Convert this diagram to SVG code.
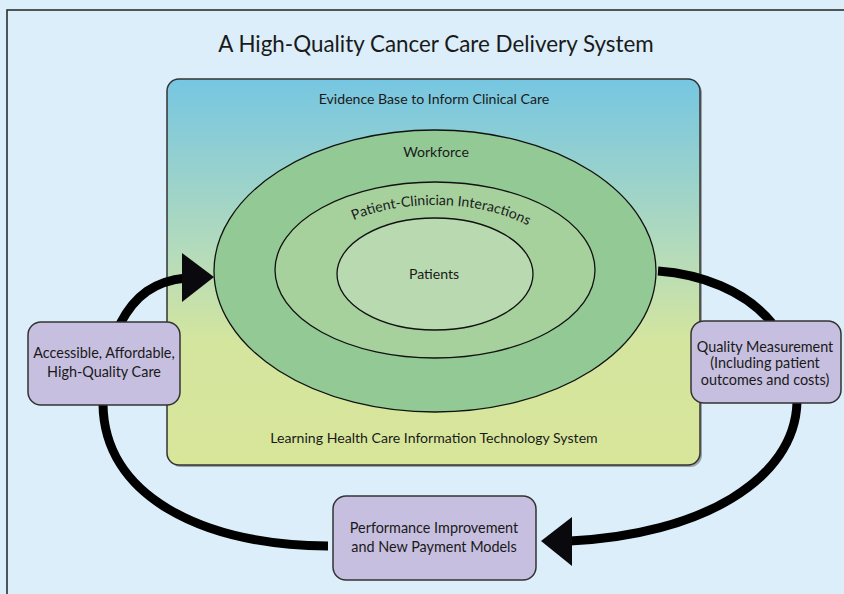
<svg xmlns="http://www.w3.org/2000/svg" width="844" height="594" viewBox="0 0 844 594">
<defs>
<linearGradient id="bg" x1="0" y1="0" x2="0" y2="1">
<stop offset="0" stop-color="#76C6E2"/>
<stop offset="0.45" stop-color="#B4DBBB"/>
<stop offset="0.68" stop-color="#D4E59E"/>
<stop offset="1" stop-color="#D8E69A"/>
</linearGradient>
<path id="arcText" d="M 305,274 A 130,69 0 0 1 565,274"/>
</defs>
<style>
text{font-family:Lato,"Open Sans","Liberation Sans",sans-serif;fill:#1a1a1a;text-anchor:middle}
.lbl{font-size:14.1px}
.bl{font-size:14.4px}
.box{fill:#C7BFDF;stroke:#333;stroke-width:1.5}
.ell{stroke:#111;stroke-width:1.3}
.conn{fill:none;stroke:#000;stroke-width:9}
.head{fill:#0a0a0e}
</style>
<rect x="0" y="0" width="844" height="594" fill="#DBEEF9"/>
<rect x="7" y="10" width="850" height="600" fill="#DBEEF9" stroke="#222" stroke-width="1.5"/>
<text x="436" y="52" font-size="22.4">A High-Quality Cancer Care Delivery System</text>

<g id="system">
<rect x="169" y="81" width="533" height="386" rx="12" fill="#555" opacity="0.5"/>
<rect x="167" y="79" width="533" height="386" rx="12" fill="url(#bg)" stroke="#333" stroke-width="1.5"/>
<text class="lbl" x="434" y="104">Evidence Base to Inform Clinical Care</text>
<text class="lbl" x="434" y="443">Learning Health Care Information Technology System</text>
</g>
<g id="workforce">
<ellipse class="ell" cx="435" cy="271" rx="221" ry="141" fill="#93C994"/>
<text class="lbl" x="436" y="157">Workforce</text>
</g>
<g id="interactions">
<ellipse class="ell" cx="435" cy="270" rx="160" ry="88" fill="#A6D19D"/>
<text class="lbl"><textPath href="#arcText" startOffset="52%">Patient-Clinician Interactions</textPath></text>
</g>
<g id="patients">
<ellipse class="ell" cx="435" cy="274" rx="98" ry="56" fill="#B9DAB0"/>
<text class="lbl" x="434" y="279">Patients</text>
</g>

<g id="connectors">
<path class="conn" d="M120,324 C135,295 155,281 186,278"/>
<polygon class="head" points="182,253 182,302 214,277"/>
<path class="conn" d="M658,271 C700,274 745,290 772,323"/>
<path class="conn" d="M797,402 C795,480 700,535 570,541"/>
<polygon class="head" points="572,517 572,566 541,541"/>
<path class="conn" d="M328,546 C200,545 104,495 103,404"/>
</g>

<g id="access">
<rect class="box" x="28" y="322" width="152" height="83" rx="13"/>
<text class="bl" x="104" y="358">Accessible, Affordable,</text>
<text class="bl" x="104" y="377">High-Quality Care</text>
</g>
<g id="quality">
<rect class="box" x="691" y="321" width="150" height="82" rx="13"/>
<text class="bl" x="765" y="352">Quality Measurement</text>
<text class="bl" x="765" y="368">(Including patient</text>
<text class="bl" x="765" y="385">outcomes and costs)</text>
</g>
<g id="performance">
<rect class="box" x="333" y="496" width="203" height="84" rx="13"/>
<text class="bl" x="434" y="533">Performance Improvement</text>
<text class="bl" x="434" y="552">and New Payment Models</text>
</g>
</svg>
